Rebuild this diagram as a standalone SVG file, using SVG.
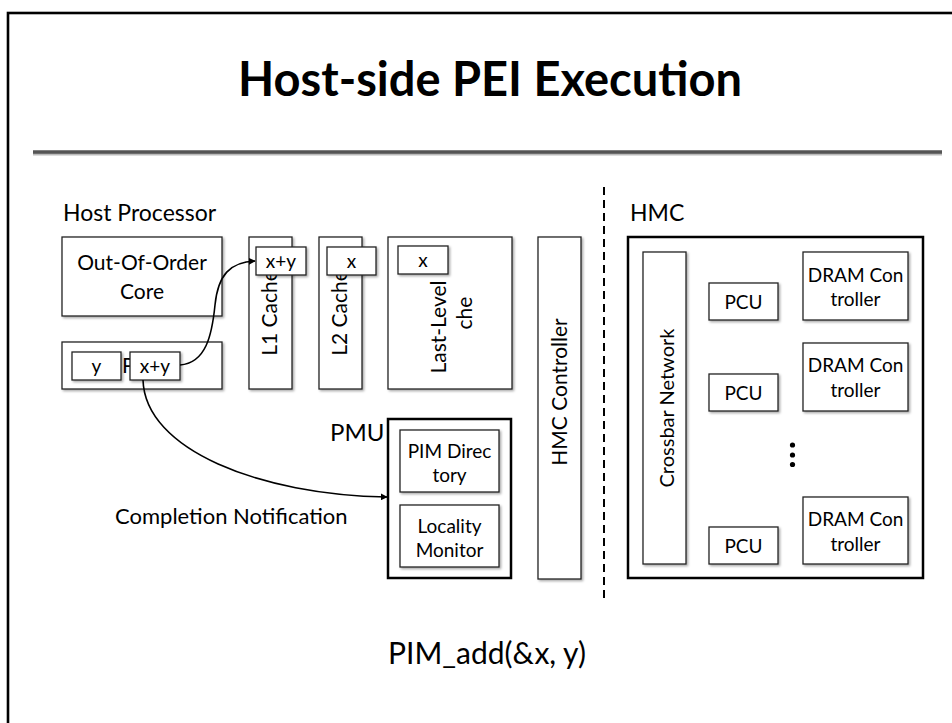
<svg xmlns="http://www.w3.org/2000/svg" width="952" height="723" viewBox="0 0 952 723">
<defs>
<filter id="sh" x="-20%" y="-20%" width="140%" height="140%">
<feDropShadow dx="1.5" dy="1.5" stdDeviation="0.8" flood-color="#000" flood-opacity="0.35"/>
</filter>
<marker id="ah" viewBox="0 0 10 10" refX="9" refY="5" markerWidth="7" markerHeight="7" orient="auto" markerUnits="userSpaceOnUse">
<path d="M0,0 L10,5 L0,10 z" fill="#000"/>
</marker>
</defs>
<style>
text{font-family:Lato,"Liberation Sans",sans-serif;fill:#000}
.b{fill:#fff;stroke:#222;stroke-width:1.3}
.bt{fill:#fff;stroke:#000;stroke-width:2.5}
.t22{font-size:21px;text-anchor:middle}
.t19{font-size:19px;text-anchor:middle}
.t18{font-size:19px;text-anchor:middle}
.lbl{font-size:23px}
.c{fill:none;stroke:#000;stroke-width:1.6}
</style>
<rect x="0" y="0" width="952" height="723" fill="#fff"/>
<rect x="8" y="13" width="970" height="740" fill="none" stroke="#000" stroke-width="2.6"/>
<line x1="33" y1="154" x2="942" y2="154" stroke="#bbb" stroke-width="3"/>
<line x1="33" y1="152" x2="942" y2="152" stroke="#555" stroke-width="3.5"/>
<text x="490" y="96" text-anchor="middle" font-size="48" font-weight="bold" textLength="504" lengthAdjust="spacingAndGlyphs">Host-side PEI Execution</text>

<text class="lbl" x="63" y="221">Host Processor</text>
<text class="lbl" x="630" y="221">HMC</text>

<line x1="604" y1="187" x2="604" y2="600" stroke="#000" stroke-width="2" stroke-dasharray="8,5"/>

<g id="ooo">
<rect class="b" filter="url(#sh)" x="62" y="237" width="160" height="79"/>
<text class="t22" x="142" y="270">Out-Of-Order</text>
<text class="t22" x="142" y="299">Core</text>
</g>

<g id="pcu-host">
<rect class="b" filter="url(#sh)" x="62" y="342" width="160" height="47"/>
<text x="122" y="373" font-size="21">P</text>
<g id="reg-y">
<rect class="b" filter="url(#sh)" x="72" y="352" width="49" height="28"/>
<text class="t19" x="96.5" y="373">y</text>
</g>
<g id="reg-xy">
<rect class="b" filter="url(#sh)" x="130" y="352" width="50" height="28"/>
<text class="t19" x="155" y="373">x+y</text>
</g>
</g>

<g id="l1">
<rect class="b" filter="url(#sh)" x="249" y="237" width="43" height="152"/>
<text class="t22" transform="translate(277,313) rotate(-90)" x="0" y="0">L1 Cache</text>
<rect class="b" filter="url(#sh)" x="256" y="247" width="50" height="28"/>
<text class="t19" x="281" y="268">x+y</text>
</g>

<g id="l2">
<rect class="b" filter="url(#sh)" x="319" y="237" width="43" height="152"/>
<text class="t22" transform="translate(347,313) rotate(-90)" x="0" y="0">L2 Cache</text>
<rect class="b" filter="url(#sh)" x="327" y="247" width="49" height="28"/>
<text class="t19" x="351.5" y="268">x</text>
</g>

<g id="llc">
<rect class="b" filter="url(#sh)" x="388" y="237" width="124" height="152"/>
<text class="t22" transform="translate(446,327) rotate(-90)" x="0" y="0" font-size="22">Last-Level</text>
<text class="t22" transform="translate(472,313) rotate(-90)" x="0" y="0">che</text>
<rect class="b" filter="url(#sh)" x="398" y="246" width="50" height="28"/>
<text class="t19" x="423" y="267">x</text>
</g>

<g id="hmc-ctrl">
<rect class="b" filter="url(#sh)" x="538" y="237" width="43" height="342"/>
<text class="t22" transform="translate(567,392) rotate(-90)" x="0" y="0">HMC Controller</text>
</g>

<g id="pmu">
<text x="330" y="441" font-size="24">PMU</text>
<rect class="bt" x="388" y="419" width="123" height="159"/>
<g id="pim-dir">
<rect class="b" filter="url(#sh)" x="400" y="430" width="99" height="62"/>
<text class="t18" x="449.5" y="458">PIM Direc</text>
<text class="t18" x="449.5" y="482">tory</text>
</g>
<g id="loc-mon">
<rect class="b" filter="url(#sh)" x="400" y="505" width="99" height="62"/>
<text class="t18" x="449.5" y="533">Locality</text>
<text class="t18" x="449.5" y="557">Monitor</text>
</g>
</g>

<g id="hmc">
<rect class="bt" x="628" y="237" width="295" height="341"/>
<g id="xbar">
<rect class="b" filter="url(#sh)" x="643" y="252" width="43" height="312"/>
<text transform="translate(674,408) rotate(-90)" x="0" y="0" font-size="20" text-anchor="middle">Crossbar Network</text>
</g>
<g id="pcu1">
<rect class="b" filter="url(#sh)" x="709" y="283" width="69" height="37"/>
<text class="t19" x="743.5" y="309">PCU</text>
</g>
<g id="pcu2">
<rect class="b" filter="url(#sh)" x="709" y="374" width="69" height="37"/>
<text class="t19" x="743.5" y="400">PCU</text>
</g>
<g id="pcu3">
<rect class="b" filter="url(#sh)" x="709" y="527" width="69" height="37"/>
<text class="t19" x="743.5" y="553">PCU</text>
</g>
<g id="dram1">
<rect class="b" filter="url(#sh)" x="803" y="252" width="105" height="68"/>
<text class="t18" x="855.5" y="282">DRAM Con</text>
<text class="t18" x="855.5" y="306">troller</text>
</g>
<g id="dram2">
<rect class="b" filter="url(#sh)" x="803" y="343" width="105" height="68"/>
<text class="t18" x="855.5" y="372">DRAM Con</text>
<text class="t18" x="855.5" y="397">troller</text>
</g>
<g id="dram3">
<rect class="b" filter="url(#sh)" x="803" y="497" width="105" height="67"/>
<text class="t18" x="855.5" y="526">DRAM Con</text>
<text class="t18" x="855.5" y="551">troller</text>
</g>
<g id="dots">
<circle cx="792.5" cy="445" r="2.6" fill="#000"/>
<circle cx="792.5" cy="455" r="2.6" fill="#000"/>
<circle cx="792.5" cy="464.5" r="2.6" fill="#000"/>
</g>
</g>

<g id="connectors">
<path class="c" d="M180,365 C206,363 212,335 215,305 C218,275 230,262 255,261" marker-end="url(#ah)"/>
<path class="c" d="M143,380 C145,450 260,495 387,497" marker-end="url(#ah)"/>
</g>

<text x="115" y="524" font-size="22">Completion Notification</text>
<text x="487" y="664" text-anchor="middle" font-size="30">PIM_add(&amp;x, y)</text>
</svg>
